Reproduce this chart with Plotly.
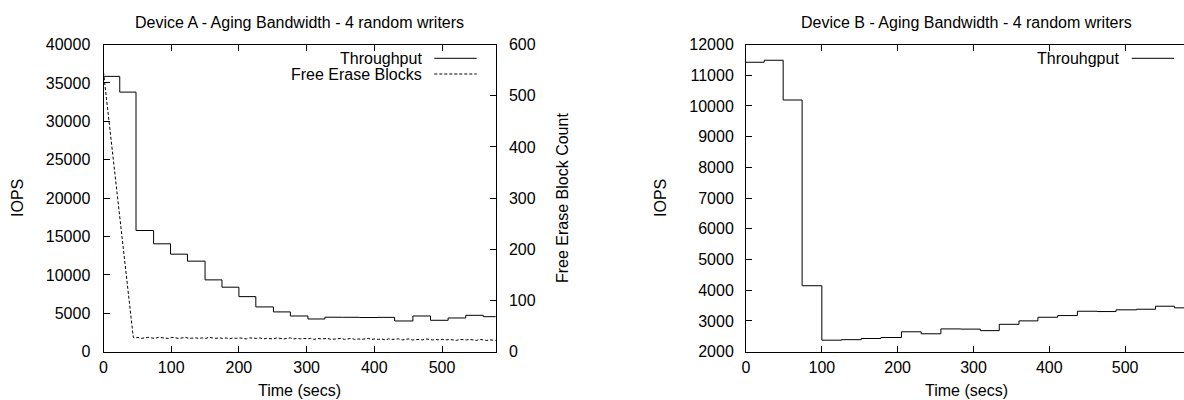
import plotly.graph_objects as go

# ---------------- data ----------------
# Device A throughput (IOPS), step chart
a_time = [0, 24, 48, 74, 99, 124, 150, 175, 200, 225, 251, 276, 302, 327, 353,
          378, 404, 430, 457, 483, 509, 535, 561, 590]
a_iops = [35850, 33800, 15780, 14050, 12700, 11790, 9350, 8400, 7170, 5830, 5180,
          4650, 4260, 4490, 4480, 4450, 4470, 4000, 4650, 4090, 4390, 4740, 4560, 4560]

# Device A free erase blocks (right axis)
feb_head_time = [0, 12, 22, 33, 44]
feb_head_count = [546, 405, 290, 160, 28]
feb_tail_start = 46
feb_tail_step = 5
feb_tail_count = [
    27, 28, 26, 27, 28, 27, 26, 28, 27, 27,
    26, 28, 27, 26, 27, 28, 26, 27, 27, 26,
    27, 26, 28, 27, 26, 27, 26, 27, 25, 27,
    26, 27, 26, 25, 27, 26, 26, 27, 25, 26,
    26, 25, 27, 26, 25, 26, 27, 25, 26, 25,
    26, 25, 26, 24, 26, 25, 25, 26, 24, 25,
    25, 26, 24, 25, 26, 24, 25, 24, 25, 26,
    24, 25, 24, 25, 23, 25, 24, 24, 25, 23,
    24, 25, 23, 24, 24, 23, 25, 24, 23, 24,
    23, 24, 23, 24, 23, 22, 24, 23, 23, 24,
    23, 22, 24, 23, 22, 23, 23, 22]

# Device B throughput (IOPS), step chart
b_time = [0, 24, 49, 74, 100, 126, 152, 178, 205, 231, 257, 283, 309, 334, 360,
          385, 411, 437, 463, 488, 515, 540, 565, 590]
b_iops = [11422, 11487, 10193, 4147, 2375, 2392, 2430, 2462, 2648, 2583, 2742, 2735,
          2686, 2892, 3003, 3121, 3176, 3317, 3307, 3363, 3382, 3480, 3428, 3428]

x_ticks = [0, 100, 200, 300, 400, 500]

title_a = "Device A - Aging Bandwidth - 4 random writers"
title_b = "Device B - Aging Bandwidth - 4 random writers"

# ---------------- figure ----------------
FONT = "Liberation Sans, Arial, sans-serif"
FS = 16
W, H = 1184, 400

feb_time = feb_head_time + [feb_tail_start + feb_tail_step * i for i in range(len(feb_tail_count))]
feb_count = feb_head_count + feb_tail_count

fig = go.Figure()
fig.add_trace(go.Scatter(x=a_time, y=a_iops, mode="lines", line=dict(shape="hv", color="black", width=1),
                         name="Throughput", xaxis="x", yaxis="y"))
fig.add_trace(go.Scatter(x=feb_time, y=feb_count, mode="lines",
                         line=dict(color="black", width=1, dash="3px,2px"),
                         name="Free Erase Blocks", xaxis="x", yaxis="y2"))
fig.add_trace(go.Scatter(x=b_time, y=b_iops, mode="lines", line=dict(shape="hv", color="black", width=1),
                         name="Throuhgput", xaxis="x2", yaxis="y3"))

def px_x(p):
    return p / W

def px_y(p):
    return 1 - p / H

axis_common = dict(showgrid=False, zeroline=False, showline=True, linecolor="black", linewidth=1,
                   ticks="inside", ticklen=6, tickcolor="black", tickwidth=1, tickformat="d",
                   automargin=False, tickfont=dict(family=FONT, size=FS, color="black"))

dom_a = [px_x(103.5), px_x(495.7)]
dom_b = [px_x(746), 1.0]
dom_y = [px_y(351.7), px_y(44.5)]

fig.update_layout(
    width=W, height=H, margin=dict(l=0, r=0, t=0, b=0, autoexpand=False),
    paper_bgcolor="white", plot_bgcolor="white", showlegend=False,
    font=dict(family=FONT, size=FS, color="black"),
    xaxis=dict(domain=dom_a, range=[0, 579.3], tickvals=x_ticks, anchor="y", mirror="ticks",
               ticklabelstandoff=1, **axis_common),
    yaxis=dict(domain=dom_y, range=[0, 40000], dtick=5000, anchor="x", mirror=True,
               ticklabelstandoff=9, **axis_common),
    yaxis2=dict(range=[0, 600], dtick=100, overlaying="y", side="right", anchor="x",
                ticklabelstandoff=9, **axis_common),
    xaxis2=dict(domain=dom_b, range=[0, 577.6], tickvals=x_ticks, anchor="y3", mirror="ticks",
                ticklabelstandoff=1, **axis_common),
    yaxis3=dict(domain=dom_y, range=[2000, 12000], dtick=1000, anchor="x2",
                ticklabelstandoff=8, **axis_common),
)

ann = []
def text(x, y, s, angle=0, xanchor="center", yanchor="middle"):
    ann.append(dict(x=px_x(x), y=px_y(y), xref="paper", yref="paper", text=s, showarrow=False,
                    textangle=angle, xanchor=xanchor, yanchor=yanchor,
                    font=dict(family=FONT, size=FS, color="black")))

text(299.6, 12, title_a, yanchor="top")
text(966, 12, title_b, yanchor="top")
text(299.6, 401, "Time (secs)", yanchor="bottom")
text(966, 401, "Time (secs)", yanchor="bottom")
text(17, 198, "IOPS", angle=-90)
text(660, 198, "IOPS", angle=-90)
text(562, 198, "Free Erase Block Count", angle=-90)
# legends (gnuplot style: text right-aligned, sample to the right)
text(424, 58.3, "Throughput", xanchor="right")
text(424, 74, "Free Erase Blocks", xanchor="right")
text(1121, 58.3, "Throuhgput", xanchor="right")
fig.update_layout(annotations=ann)

shapes = [
    dict(type="line", xref="paper", yref="paper", x0=px_x(434.3), x1=px_x(476.7), y0=px_y(58.3), y1=px_y(58.3),
         line=dict(color="black", width=1)),
    dict(type="line", xref="paper", yref="paper", x0=px_x(434.3), x1=px_x(476.7), y0=px_y(74), y1=px_y(74),
         line=dict(color="black", width=1, dash="3px,2px")),
    dict(type="line", xref="paper", yref="paper", x0=px_x(1131.7), x1=px_x(1174), y0=px_y(58.3), y1=px_y(58.3),
         line=dict(color="black", width=1)),
]
fig.update_layout(shapes=shapes)

fig.write_html("out.html")
